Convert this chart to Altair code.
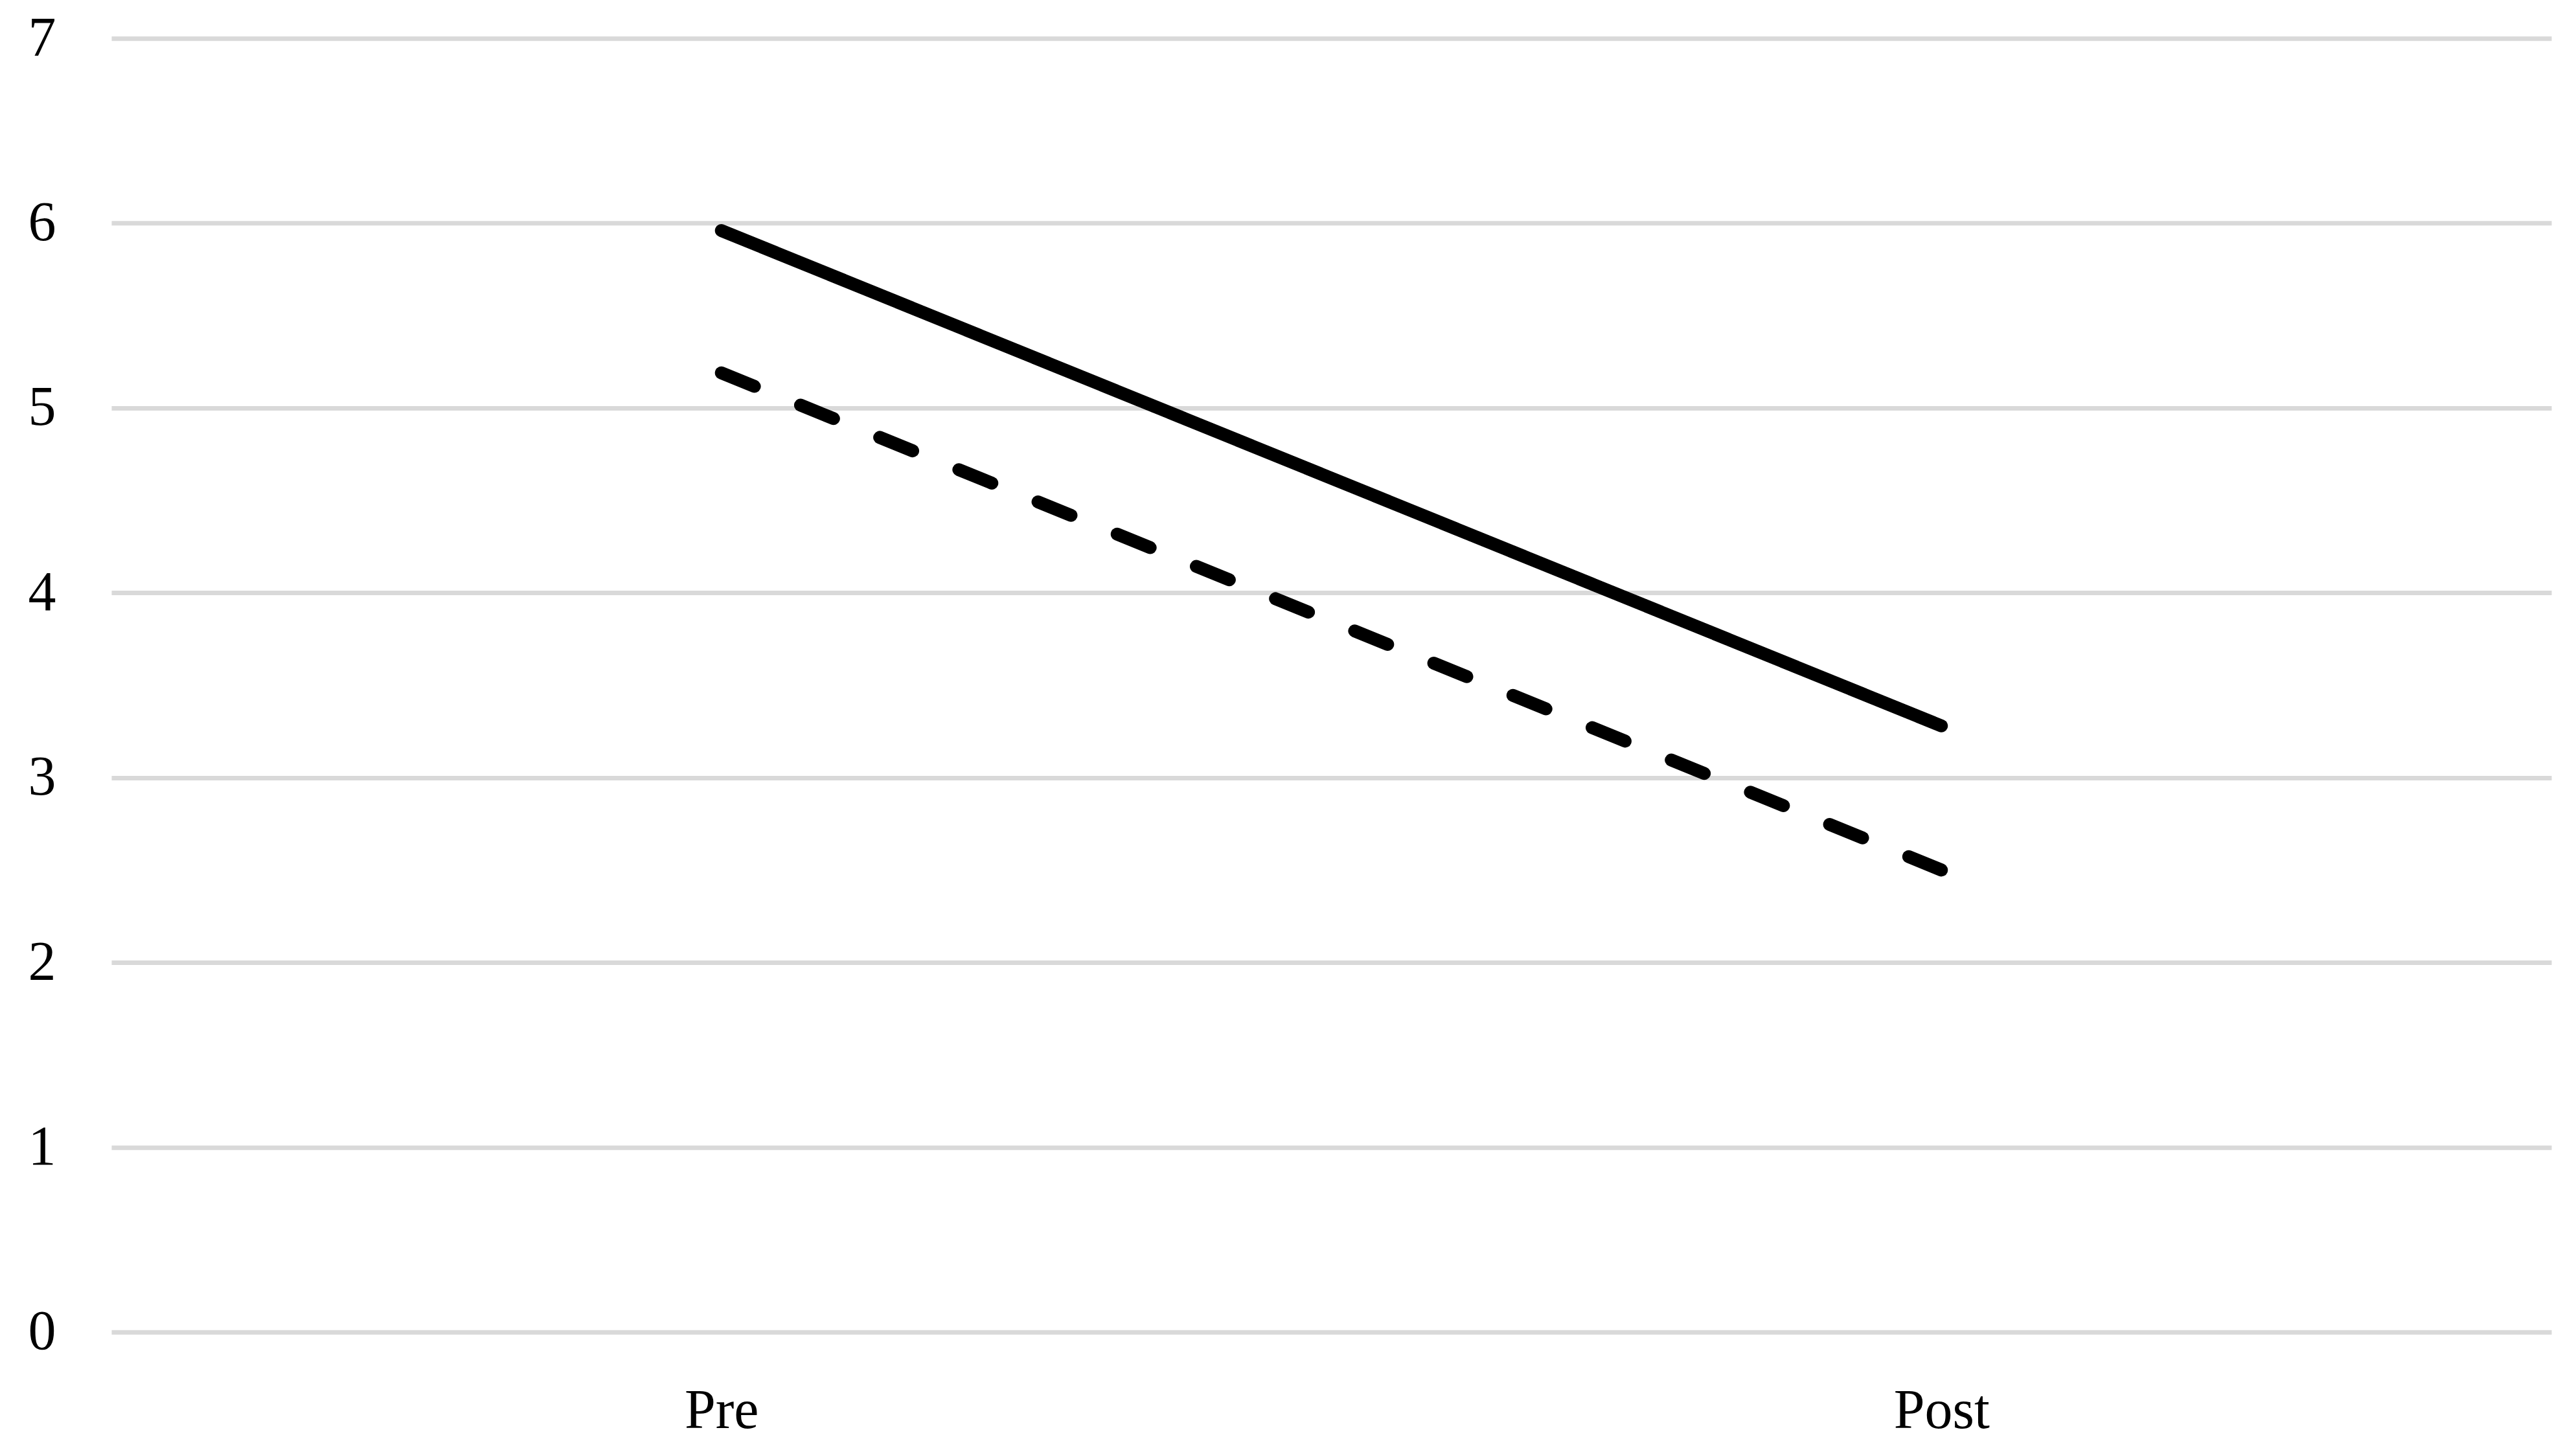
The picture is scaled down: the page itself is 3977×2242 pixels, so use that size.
import altair as alt
import pandas as pd

categories = ["Pre", "Post"]
series_names = ["A", "B"]
series_a = [5.96, 3.28]
series_b = [5.19, 2.50]
y_ticks = [0, 1, 2, 3, 4, 5, 6, 7]

rows = []
for name, vals in zip(series_names, [series_a, series_b]):
    for i, (c, v) in enumerate(zip(categories, vals)):
        rows.append({"time": c, "value": v, "series": name, "order": i})
df = pd.DataFrame(rows)

FONT = "Liberation Serif"

chart = alt.Chart(df).mark_line(
    color="black", strokeWidth=20, strokeCap="round", strokeJoin="round"
).encode(
    x=alt.X("time:N", sort=categories,
            scale=alt.Scale(type="point", padding=0.5),
            axis=alt.Axis(title=None, labelAngle=0, ticks=False, domain=False,
                          grid=False, labelFont=FONT, labelFontSize=86,
                          labelColor="black", labelPadding=80)),
    y=alt.Y("value:Q", scale=alt.Scale(domain=[0, 7], nice=False, zero=True),
            axis=alt.Axis(title=None, values=y_ticks, ticks=False, domain=False,
                          grid=True, gridColor="#d9d9d9", gridWidth=7,
                          labelFont=FONT, labelFontSize=86, labelColor="black",
                          labelPadding=86)),
    strokeDash=alt.StrokeDash("series:N",
                              scale=alt.Scale(domain=series_names, range=[[1, 0], [55, 77]]),
                              legend=None),
    detail="series:N",
    order="order:Q",
).properties(
    width=3768, height=1998,
    background="white",
    autosize=alt.AutoSizeParams(type="none"),
    padding={"left": 164, "top": 51, "right": 30, "bottom": 170},
).configure_view(stroke=None, strokeWidth=0)

chart.save("out.html", embed_options={"renderer": "svg", "actions": False})
